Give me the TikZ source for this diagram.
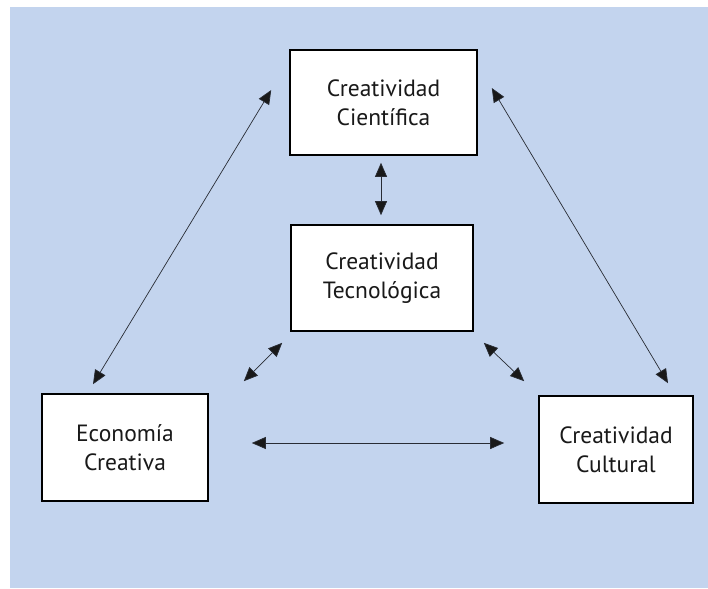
\documentclass[tikz,border=0pt]{standalone}
\usepackage{fontspec}
\setmainfont{PT Sans}
\usepackage{xcolor}
\usepackage{tikz}
\usetikzlibrary{arrows.meta}
\definecolor{bgblue}{RGB}{195,212,238}
\definecolor{linegray}{RGB}{40,44,52}
\tikzset{
  box/.style={draw=black,line width=1.6pt,fill=white,align=center,text=black!90,font=\fontsize{23.5}{29}\selectfont},
  doublearrow/.style={draw=linegray,line width=0.7pt,{Triangle[length=14pt,width=12pt,fill=black!90]}-{Triangle[length=14pt,width=12pt,fill=black!90]}}
}
\begin{document}
\begin{tikzpicture}[x=1pt,y=-1pt]
    \useasboundingbox (0,0) rectangle (708,588);
    \fill[bgblue] (10,7) rectangle (708,588);
    \node[box,minimum width=187pt,minimum height=105pt] (cien) at (383.5,102.5) {Creatividad\\Científica};
    \node[box,minimum width=182pt,minimum height=106pt] (tecn) at (382,278) {Creatividad\\Tecnológica};
    \node[box,minimum width=166pt,minimum height=107pt] (eco) at (125,447.5) {Economía\\Creativa};
    \node[box,minimum width=154pt,minimum height=107pt] (cult) at (616,449.5) {Creatividad\\Cultural};
    \draw[doublearrow] ([xshift=-18pt,yshift=12.5pt]cien.west) -- ([xshift=-32pt,yshift=9pt]eco.north);
    \draw[doublearrow] ([xshift=14pt,yshift=14.5pt]cien.east) -- ([xshift=52pt,yshift=12pt]cult.north);
    \draw[doublearrow] ([xshift=-2.5pt,yshift=-7pt]cien.south) -- ([xshift=-1pt,yshift=9pt]tecn.north);
    \draw[doublearrow] ([xshift=-8pt,yshift=-11pt]tecn.south west) -- ([xshift=35pt,yshift=12pt]eco.north east);
    \draw[doublearrow] ([xshift=10pt,yshift=-11pt]tecn.south east) -- ([xshift=-14pt,yshift=14pt]cult.north west);
    \draw[doublearrow] ([xshift=43pt,yshift=4.5pt]eco.east) -- ([xshift=-34pt,yshift=6.5pt]cult.west);
\end{tikzpicture}
\end{document}
